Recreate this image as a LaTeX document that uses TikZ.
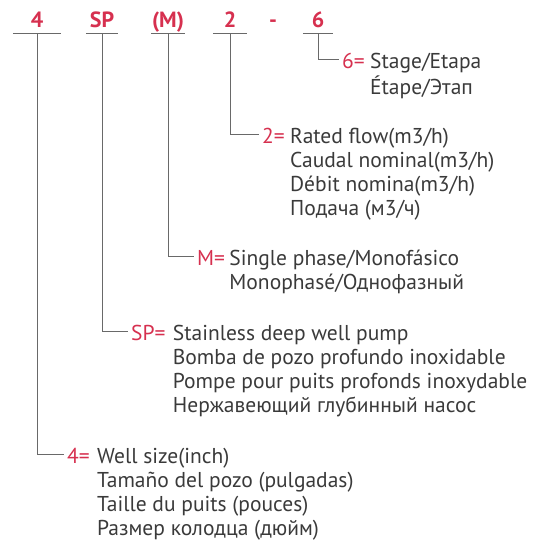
\documentclass[tikz,border=0pt]{standalone}
\usepackage{fontspec}
\setmainfont{PT Sans}
\usetikzlibrary{positioning}
\definecolor{codered}{RGB}{214, 48, 79}
\definecolor{textgray}{RGB}{58, 58, 58}
\definecolor{linegray}{RGB}{105, 105, 105}
\newcommand{\desclines}[1]{\begin{tabular}[t]{@{}l@{}}#1\end{tabular}}

\begin{document}
\begin{tikzpicture}[x=1pt, y=-1pt,
  code/.style={text=codered, font=\fontsize{22}{26}\selectfont\bfseries, anchor=base, inner sep=0pt, text depth=6pt, minimum width=#1},
  key/.style={text=codered, font=\fontsize{21.5}{24}\selectfont, inner xsep=3pt, inner ysep=0pt, text height=17pt, text depth=0pt, anchor=base west},
  desc/.style={text=textgray, font=\fontsize{21.5}{24.3}\selectfont, inner sep=0pt, anchor=base west},
  uline/.style={linegray, line width=1.1pt},
  lead/.style={linegray, line width=1pt},
]
  \useasboundingbox (0,0) rectangle (533,542);

  % Model code
  \node[code=48] (c4) at (37, 27) {4};
  \node[code=32] (csp) at (102, 27) {SP};
  \node[code=33] (cm) at (168, 27) {(M)};
  \node[code=34] (c2) at (230, 27) {2};
  \node[code=0] (cdash) at (273, 27) {-};
  \node[code=30] (c6) at (318, 27) {6};

  \draw[uline] (c4.south west) -- (c4.south east);
  \draw[uline] (csp.south west) -- (csp.south east);
  \draw[uline] (cm.south west) -- (cm.south east);
  \draw[uline] (c2.south west) -- (c2.south east);
  \draw[uline] (c6.south west) -- (c6.south east);

  % Keys
  \node[key] (k6) at (339, 68) {6=};
  \node[key] (k2) at (259, 143) {2=};
  \node[key] (km) at (194, 265) {M=};
  \node[key] (ksp) at (128, 340) {SP=};
  \node[key] (k4) at (64, 463) {4=};

  % Descriptions
  \node[desc, right=2pt of k6.base east, anchor=base west] (d6) {\desclines{Stage/Etapa\\Étape/Этап}};
  \node[desc, right=2pt of k2.base east, anchor=base west] (d2) {\desclines{Rated flow(m3/h)\\Caudal nominal(m3/h)\\Débit nomina(m3/h)\\Подача (м3/ч)}};
  \node[desc, right=1pt of km.base east, anchor=base west] (dm) {\desclines{Single phase/Monofásico\\Monophasé/Однофазный}};
  \node[desc, right=4pt of ksp.base east, anchor=base west] (dsp) {\desclines{Stainless deep well pump\\Bomba de pozo profundo inoxidable\\Pompe pour puits profonds inoxydable\\Нержавеющий глубинный насос}};
  \node[desc, right=4pt of k4.base east, anchor=base west] (d4) {\desclines{Well size(inch)\\Tamaño del pozo (pulgadas)\\Taille du puits (pouces)\\Размер колодца (дюйм)}};

  % Leaders
  \draw[lead] (c6.south) |- (k6.west);
  \draw[lead] (c2.south) |- (k2.west);
  \draw[lead] (cm.south) |- (km.west);
  \draw[lead] (csp.south) |- (ksp.west);
  \draw[lead] (c4.south) |- (k4.west);
\end{tikzpicture}
\end{document}
